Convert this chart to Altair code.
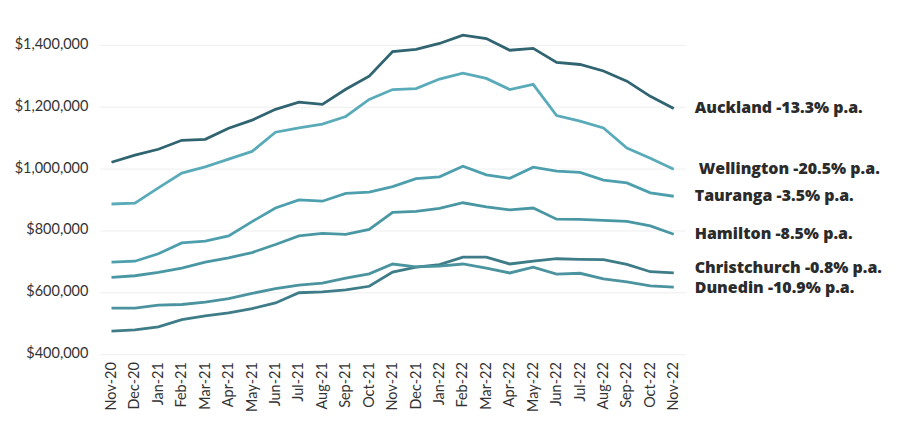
import altair as alt
import pandas as pd

months = ["Nov-20","Dec-20","Jan-21","Feb-21","Mar-21","Apr-21","May-21","Jun-21",
          "Jul-21","Aug-21","Sep-21","Oct-21","Nov-21","Dec-21","Jan-22","Feb-22",
          "Mar-22","Apr-22","May-22","Jun-22","Jul-22","Aug-22","Sep-22","Oct-22","Nov-22"]

auckland = [1019000,1042000,1061000,1090000,1093000,1129000,1155000,1190000,1213000,1206000,
            1255000,1297000,1377000,1384000,1403000,1430000,1419000,1381000,1387000,1342000,
            1335000,1314000,1281000,1232000,1193000]
wellington = [884000,887000,936000,984000,1004000,1029000,1054000,1116000,1130000,1142000,
              1167000,1222000,1254000,1257000,1288000,1307000,1290000,1254000,1271000,1170000,
              1152000,1130000,1065000,1032000,996000]
tauranga = [696000,699000,723000,758000,764000,781000,827000,871000,897000,893000,
            918000,922000,940000,966000,972000,1006000,978000,967000,1003000,990000,
            986000,961000,952000,920000,909000]
hamilton = [647000,652000,663000,677000,696000,710000,727000,753000,781000,789000,
            786000,802000,857000,860000,870000,888000,875000,865000,871000,835000,
            834000,831000,828000,813000,786000]
christchurch = [473000,477000,487000,510000,522000,532000,546000,564000,597000,600000,
                606000,618000,664000,680000,688000,712000,712000,690000,699000,707000,
                705000,704000,689000,665000,661000]
dunedin = [547000,547000,557000,559000,567000,578000,595000,610000,622000,628000,
           644000,658000,690000,681000,683000,690000,677000,661000,680000,657000,
           660000,642000,632000,619000,615000]

cities = ["Auckland","Wellington","Tauranga","Hamilton","Christchurch","Dunedin"]
labels = ["Auckland -13.3% p.a.","Wellington -20.5% p.a.","Tauranga -3.5% p.a.",
          "Hamilton -8.5% p.a.","Christchurch -0.8% p.a.","Dunedin -10.9% p.a."]
colors = ["#2f6470","#5aabb9","#4d9fae","#4a97a4","#3e7c88","#4a939f"]
series = [auckland, wellington, tauranga, hamilton, christchurch, dunedin]

rows = []
for c, s in zip(cities, series):
    for m, v in zip(months, s):
        rows.append({"month": m, "city": c, "value": v})
df = pd.DataFrame(rows)

lab_df = pd.DataFrame({"city": cities, "label": labels,
                       "month": [months[-1]] * len(cities),
                       "value": [s[-1] for s in series]})

FONT = "Lato"
LFONT = "Open Sans"

x = alt.X("month:N", sort=months, title=None,
          scale=alt.Scale(type="point", padding=0.5),
          axis=alt.Axis(labelAngle=-90, labelFontSize=14.5, labelColor="#333333",
                        labelFont=FONT, ticks=False, domain=False, grid=False,
                        labelPadding=8))
y = alt.Y("value:Q", title=None,
          scale=alt.Scale(domain=[400000, 1450000], nice=False, zero=False),
          axis=alt.Axis(values=[400000, 600000, 800000, 1000000, 1200000, 1400000],
                        format="$,.0f", labelFontSize=14.5, labelColor="#333333",
                        labelFont=FONT, ticks=False, domain=False,
                        gridColor="#eeeeee", labelPadding=12))

lines = alt.Chart(df).mark_line(strokeWidth=2.8).encode(
    x=x, y=y,
    color=alt.Color("city:N", scale=alt.Scale(domain=cities, range=colors), legend=None),
)

def text_layer(names, dy, dx=21):
    return alt.Chart(lab_df).transform_filter(
        alt.FieldOneOfPredicate(field="city", oneOf=names)
    ).mark_text(align="left", baseline="middle", dx=dx, dy=dy, fontSize=16,
                fontWeight=800, font=LFONT, color="#2b2b2b").encode(
        x=alt.X("month:N", sort=months),
        y=alt.Y("value:Q"),
        text="label:N",
    )

texts = [
    text_layer(["Auckland", "Tauranga", "Hamilton"], 0),
    text_layer(["Dunedin"], 1),
    text_layer(["Wellington"], 0, dx=25),
    text_layer(["Christchurch"], -5),
]

chart = alt.layer(lines, *texts).properties(
    width=587, height=325.5,
    autosize=alt.AutoSizeParams(type="none"),
    padding={"left": 92, "top": 20.5, "right": 204, "bottom": 70},
).configure_view(stroke=None)

chart.save("out.html", embed_options={"renderer": "svg", "actions": False})
